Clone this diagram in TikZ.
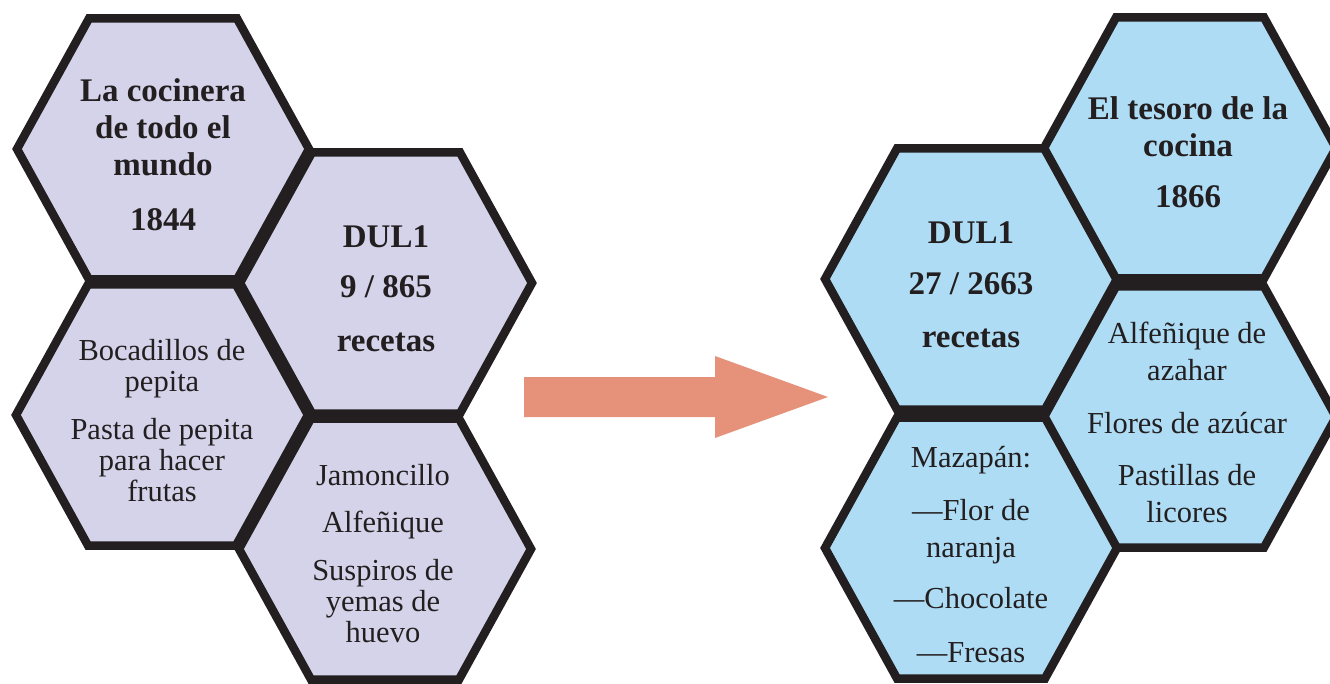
\documentclass[tikz,border=0pt]{standalone}
\usepackage{fontspec}
\setmainfont{Liberation Serif}
\definecolor{ink}{HTML}{231F20}
\definecolor{lavender}{HTML}{D5D3EA}
\definecolor{skyfill}{HTML}{AEDCF4}
\definecolor{salmon}{HTML}{E6927A}
\newcommand\yearnum[1]{{\fontsize{33}{37}\selectfont #1}}
\begin{document}
\begin{tikzpicture}[x=1pt,y=-1pt,
  pics/hexcell/.style={code={
    \filldraw[fill=#1, draw=ink, line width=8.5pt, line join=miter]
      (-146,0) -- (-74,-130.5) -- (74,-130.5) -- (146,0)
      -- (74,130.5) -- (-74,130.5) -- cycle;}},
  % the base anchor of a multi-line node sits on its last line
  celltext/.style={anchor=base, align=center, inner sep=0pt, text=ink},
  titletext/.style={celltext, font=\fontsize{33}{37}\selectfont\bfseries},
  itemtext/.style={celltext, font=\fontsize{30.5}{31}\selectfont},
  wideitem/.style={celltext, font=\fontsize{30.5}{37}\selectfont}]
\clip (0,0) rectangle (1330,684);

% left honeycomb
\pic (hA) at (163,149) {hexcell=lavender};
\pic (hB) at (386,283) {hexcell=lavender};
\pic (hC) at (162,415) {hexcell=lavender};
\pic (hD) at (385,549) {hexcell=lavender};

% right honeycomb
\pic (hE) at (971,279) {hexcell=skyfill};
\pic (hF) at (1190,148) {hexcell=skyfill};
\pic (hG) at (1190,417) {hexcell=skyfill};
\pic (hH) at (971,548) {hexcell=skyfill};

% block arrow between the two groups
\fill[salmon] (524,377) -- (715,377) -- (715,356) -- (828,397)
  -- (715,438) -- (715,417) -- (524,417) -- cycle;

% texts of the left group
\node[titletext] (cocinera) at (163,231)
  {La cocinera\\de todo el\\mundo\\[18pt]\yearnum{1844}};
\node[titletext] (dulA) at (386,352)
  {DUL1\\[13pt]\yearnum{9 / 865}\\[17pt]recetas};
\node[itemtext] (pepita) at (162,501)
  {Bocadillos de\\pepita\\[17pt]Pasta de pepita\\para hacer\\frutas};
\node[itemtext] (jamon) at (383,642)
  {Jamoncillo\\[16pt]Alfeñique\\[17pt]Suspiros de\\yemas de\\huevo};

% texts of the right group
\node[titletext] (dulB) at (971,348)
  {DUL1\\[14pt]\yearnum{27 / 2663}\\[16pt]recetas};
\node[titletext] (tesoro) at (1188,208)
  {El tesoro de la\\cocina\\[14pt]\yearnum{1866}};
\node[wideitem] (azahar) at (1187,522)
  {Alfeñique de\\azahar\\[16pt]Flores de azúcar\\[15pt]Pastillas de\\licores};
\node[wideitem] (mazapan) at (971,662)
  {Mazapán:\\[16pt]—Flor de\\naranja\\[14pt]—Chocolate\\[17pt]—Fresas};
\end{tikzpicture}
\end{document}
